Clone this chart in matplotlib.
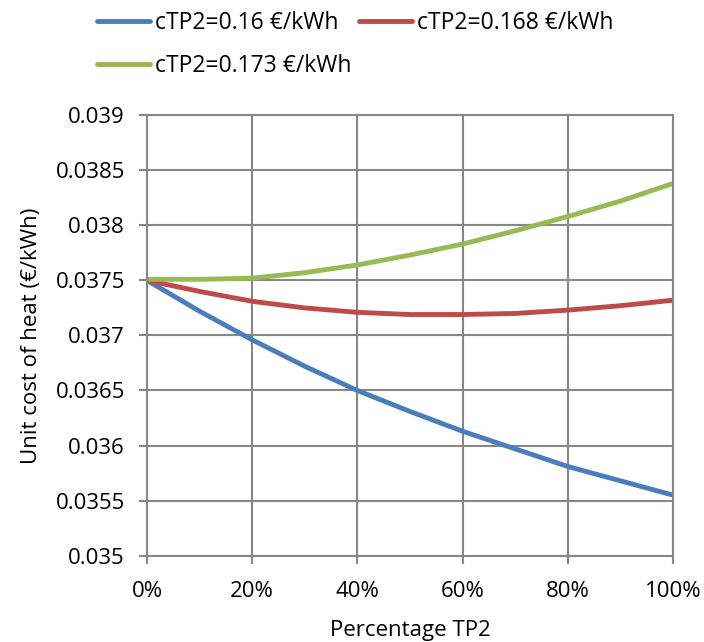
import matplotlib.pyplot as plt
from matplotlib.ticker import FuncFormatter

plt.rcParams['font.family'] = ['Open Sans', 'DejaVu Sans']

pct = [0, 10, 20, 30, 40, 50, 60, 70, 80, 90, 100]
cost_016 = [0.0375, 0.03722, 0.03696, 0.03672, 0.0365, 0.03631, 0.03613, 0.03597, 0.03581, 0.03568, 0.03555]
cost_0168 = [0.0375, 0.03740, 0.03731, 0.03725, 0.03721, 0.03719, 0.03719, 0.03720, 0.03723, 0.03727, 0.03732]
cost_0173 = [0.03751, 0.03751, 0.03752, 0.03757, 0.03764, 0.03773, 0.03783, 0.03795, 0.03808, 0.03822, 0.03838]
labels = ['cTP2=0.16 €/kWh', 'cTP2=0.168 €/kWh', 'cTP2=0.173 €/kWh']
colors = ['#4A7EBB', '#BE4B48', '#98B954']
yticks = [0.035, 0.0355, 0.036, 0.0365, 0.037, 0.0375, 0.038, 0.0385, 0.039]
ytick_labels = ['0.035', '0.0355', '0.036', '0.0365', '0.037', '0.0375', '0.038', '0.0385', '0.039']

fig = plt.figure(figsize=(7.04, 6.42), dpi=100)
ax = fig.add_axes([0.2088, 0.1345, 0.747, 0.686])

lines = []
for ys, lab, c in zip([cost_016, cost_0168, cost_0173], labels, colors):
    l, = ax.plot(pct, ys, color=c, lw=3.5, label=lab, solid_capstyle='round')
    lines.append(l)

ax.set_xlim(0, 100)
ax.set_ylim(0.035, 0.039)
ax.set_xticks(range(0, 101, 20))
ax.xaxis.set_major_formatter(FuncFormatter(lambda v, p: '%d%%' % v))
ax.set_yticks(yticks)
ax.set_yticklabels(ytick_labels)
ax.grid(True, color='#878787', lw=1.5)
ax.set_axisbelow(True)
for s in ax.spines.values():
    s.set_color('#878787')
    s.set_linewidth(1.5)
ax.tick_params(labelsize=16, length=6, width=1.5, color='#878787', direction='out')
ax.tick_params(axis='y', pad=10)
ax.tick_params(axis='x', pad=12)
ax.set_xlabel('Percentage TP2', fontsize=16, labelpad=13)
ax.set_ylabel('Unit cost of heat (€/kWh)', fontsize=16, labelpad=10)

# row-wise legend order: blue, red / green
order = [0, 2, 1]
fig.legend([lines[i] for i in order], [labels[i] for i in order],
           loc='upper left', bbox_to_anchor=(86 / 704, 1.0), ncol=2,
           frameon=False, borderpad=0, fontsize=16.5, handlelength=2.3,
           handletextpad=0.2, columnspacing=0.35, labelspacing=0.8)

fig.savefig('out.png', dpi=100)
